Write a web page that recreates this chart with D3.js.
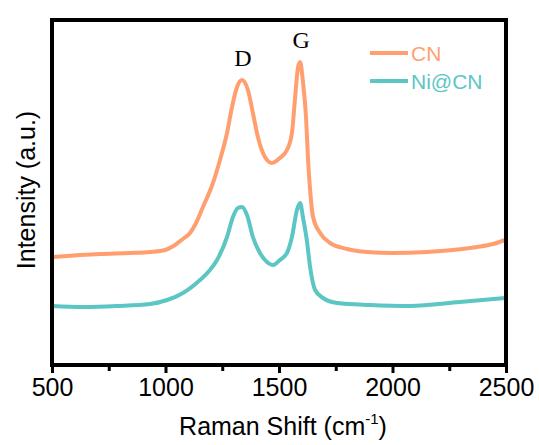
<!DOCTYPE html>
<html>
<head>
<meta charset="utf-8">
<script src="https://cdn.jsdelivr.net/npm/d3@7"></script>
<style>
  body { margin: 0; background: #fff; }
</style>
</head>
<body>
<script>
// raman spectra (intensity in arbitrary units)

var cnShift = [500, 711, 844, 932, 998, 1042, 1076, 1108, 1130, 1165, 1209, 1240, 1271, 1293, 1315, 1337, 1363, 1385, 1407, 1438, 1469, 1504, 1535, 1557, 1570, 1584, 1593, 1606, 1619, 1628, 1637, 1650, 1681, 1725, 1800, 1888, 2002, 2152, 2267, 2372, 2443, 2496];
var cnIntensity = [108, 111, 112, 113, 115, 120, 126, 132, 140, 158, 182, 205, 232, 258, 278, 285, 275, 252, 228, 208, 202, 207, 215, 232, 265, 298, 303, 282, 248, 205, 175, 148, 132, 122, 116, 113, 112, 113, 115, 118, 121, 125];

var niShift = [500, 637, 786, 932, 1007, 1077, 1152, 1196, 1227, 1271, 1297, 1319, 1337, 1359, 1385, 1416, 1447, 1474, 1504, 1535, 1557, 1579, 1593, 1606, 1623, 1637, 1659, 1694, 1756, 1901, 2077, 2297, 2496];
var niIntensity = [59, 58, 59, 61, 65, 72, 85, 95, 105, 128, 148, 157, 158, 150, 128, 112, 103, 100, 105, 112, 128, 155, 162, 147, 124, 98, 75, 67, 62, 60, 59, 63, 67];

var seriesNames = ["CN", "Ni@CN"];
var seriesColors = ["#ff9f70", "#5cc6c4"];
var xTicks = [500, 1000, 1500, 2000, 2500];
var xMinorTicks = [750, 1250, 1750, 2250];
var peakNames = ["D", "G"];
var peakShifts = [1337, 1593];
var peakValues = [285, 303];

(function(){

var svg = d3.select("body").append("svg").attr("width", 539).attr("height", 445);

var x = d3.scaleLinear().domain([500, 2500]).range([52, 506]);
var y = d3.scaleLinear().domain([0, 345]).range([365, 20]);

var line = d3.line()
    .x(function(d){ return x(d[0]); })
    .y(function(d){ return y(d[1]); })
    .curve(d3.curveMonotoneX);

//spectra
svg.append("path").datum(d3.zip(cnShift, cnIntensity)).attr("fill", "none")
    .attr("stroke", seriesColors[0]).attr("stroke-width", 4).attr("d", line);
svg.append("path").datum(d3.zip(niShift, niIntensity)).attr("fill", "none")
    .attr("stroke", seriesColors[1]).attr("stroke-width", 4).attr("d", line);

//frame
svg.append("rect").attr("x", 52).attr("y", 20).attr("width", 454).attr("height", 345)
    .attr("fill", "none").attr("stroke", "#000").attr("stroke-width", 4);

//bottom axis, major ticks with labels
var gx = svg.append("g").attr("transform", "translate(0,365)")
    .call(d3.axisBottom(x).tickValues(xTicks).tickSize(8).tickPadding(5).tickFormat(d3.format("d")));
gx.selectAll(".tick line").attr("stroke", "#000").attr("stroke-width", 3);
gx.selectAll(".tick text").attr("fill", "#000").attr("font-size", 25)
    .attr("font-family", "Liberation Sans, Arial, sans-serif");

//minor ticks
var gm = svg.append("g").attr("transform", "translate(0,365)")
    .call(d3.axisBottom(x).tickValues(xMinorTicks).tickSize(6).tickFormat(""));
gm.selectAll(".tick line").attr("stroke", "#000").attr("stroke-width", 3);

//axis titles
var xTitle = svg.append("text").attr("x", 283).attr("y", 435)
    .attr("text-anchor", "middle").attr("fill", "#000").attr("font-size", 25)
    .attr("font-family", "Liberation Sans, Arial, sans-serif");
xTitle.append("tspan").text("Raman Shift (cm");
xTitle.append("tspan").attr("font-size", 15).attr("dy", -11).text("-1");
xTitle.append("tspan").attr("dy", 11).text(")");

svg.append("text").attr("transform", "translate(35,190) rotate(-90)")
    .attr("text-anchor", "middle").attr("fill", "#000").attr("font-size", 25)
    .attr("font-family", "Liberation Sans, Arial, sans-serif")
    .text("Intensity (a.u.)");

//peak labels D and G
peakNames.forEach(function(name, i){
    svg.append("text")
        .attr("x", x(peakShifts[i]) + 1)
        .attr("y", y(peakValues[i]) - 14)
        .attr("text-anchor", "middle").attr("fill", "#000").attr("font-size", 24)
        .attr("font-family", "Liberation Serif, Times New Roman, serif")
        .text(name);
});

//legend
seriesNames.forEach(function(name, i){
    var ly = 53 + i * 28;
    svg.append("line").attr("x1", 370).attr("x2", 408).attr("y1", ly).attr("y2", ly)
        .attr("stroke", seriesColors[i]).attr("stroke-width", 4);
    svg.append("text").attr("x", 411).attr("y", ly + 7.5)
        .attr("fill", seriesColors[i]).attr("font-size", 21)
        .attr("font-family", "Liberation Sans, Arial, sans-serif")
        .text(name);
});

})();
</script>
</body>
</html>
